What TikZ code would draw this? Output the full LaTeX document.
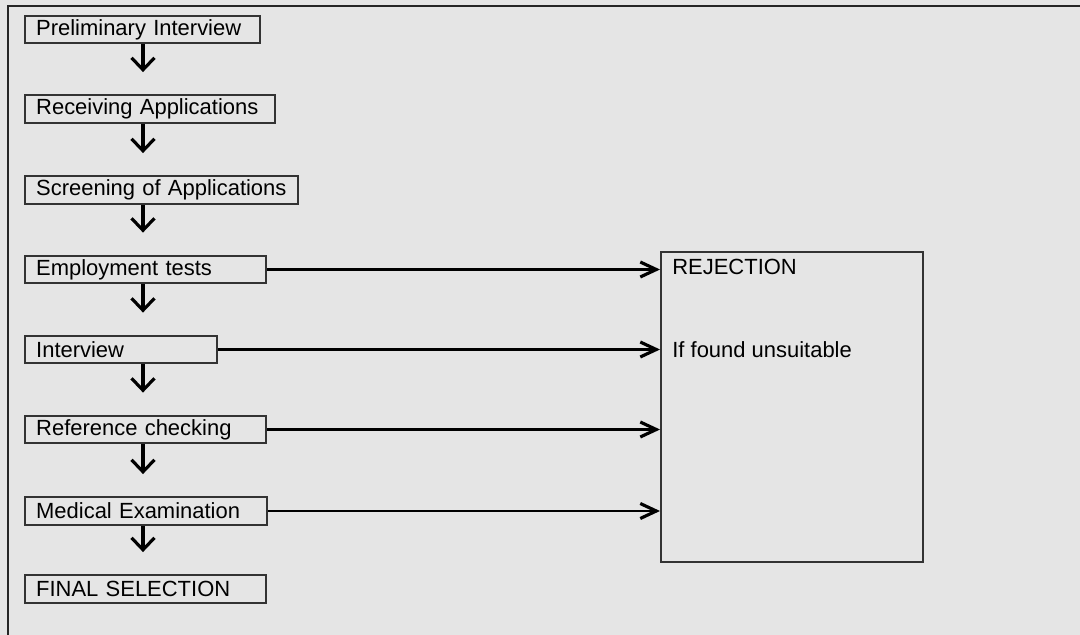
\documentclass[tikz,border=0pt]{standalone}
\usepackage{fontspec}
\setmainfont{Liberation Sans}
\usepackage{xcolor}
\usepackage{tikz}
\usetikzlibrary{arrows.meta}

\definecolor{pagegray}{HTML}{E5E5E5}
\definecolor{boxgray}{HTML}{333333}

\begin{document}
\begin{tikzpicture}[x=0.02cm, y=-0.02cm,
        stage/.style={draw=boxgray, line width=1.35pt, anchor=west, minimum height=0.55cm, inner xsep=0.22cm, inner ysep=0pt, align=left, font=\fontsize{12.5}{15}\selectfont},
        note/.style={anchor=west, inner sep=0pt, font=\fontsize{12.5}{15}\selectfont},
        down/.style={-{Straight Barb[length=0.24cm, width=0.46cm, line width=1.8pt]}, line width=1.9pt, shorten >=0.44cm},
        reject/.style={-{Straight Barb[length=0.32cm, width=0.30cm, line width=1.8pt]}, line width=1.4pt}
    ]
        \fill[pagegray] (0,0) rectangle (1080,635);
        \useasboundingbox (0,0) rectangle (1080,635);
        \draw[line width=1.4pt, black!85] (8,635) -- (8,6) -- (1080,6);

        \node[stage, text width=4.26cm] (prelim) at (24,29.5) {Preliminary Interview};
        \node[stage, text width=4.56cm] (receiving) at (24,109) {Receiving Applications};
        \node[stage, text width=5.02cm] (screening) at (24,190) {Screening of Applications};
        \node[stage, text width=4.38cm] (employ) at (24,269.5) {Employment tests};
        \node[stage, text width=3.40cm] (interview) at (24,349.5) {Interview};
        \node[stage, text width=4.38cm] (reference) at (24,429.5) {Reference checking};
        \node[stage, text width=4.40cm] (medical) at (24,511) {Medical Examination};
        \node[stage, text width=4.38cm] (final) at (24,589) {FINAL SELECTION};

        \node[draw=boxgray, line width=1.35pt, anchor=north west, minimum width=5.24cm, minimum height=6.2cm] (rejection) at (660,251) {};
        \node[note] (rejtitle) at (672,267) {REJECTION};
        \node[note] (rejnote) at (672,349.5) {If found unsuitable};

        \coordinate (spine) at (143,0);
        \draw[down] (prelim.south -| spine) -- (receiving.north -| spine);
        \draw[down] (receiving.south -| spine) -- (screening.north -| spine);
        \draw[down] (screening.south -| spine) -- (employ.north -| spine);
        \draw[down] (employ.south -| spine) -- (interview.north -| spine);
        \draw[down] (interview.south -| spine) -- (reference.north -| spine);
        \draw[down] (reference.south -| spine) -- (medical.north -| spine);
        \draw[down] (medical.south -| spine) -- (final.north -| spine);

        \draw[reject] (employ.east) -- (employ.east -| rejection.west);
        \draw[reject] (interview.east) -- (interview.east -| rejection.west);
        \draw[reject] (reference.east) -- (reference.east -| rejection.west);
        \draw[reject] (medical.east) -- (medical.east -| rejection.west);
    \end{tikzpicture}
\end{document}
